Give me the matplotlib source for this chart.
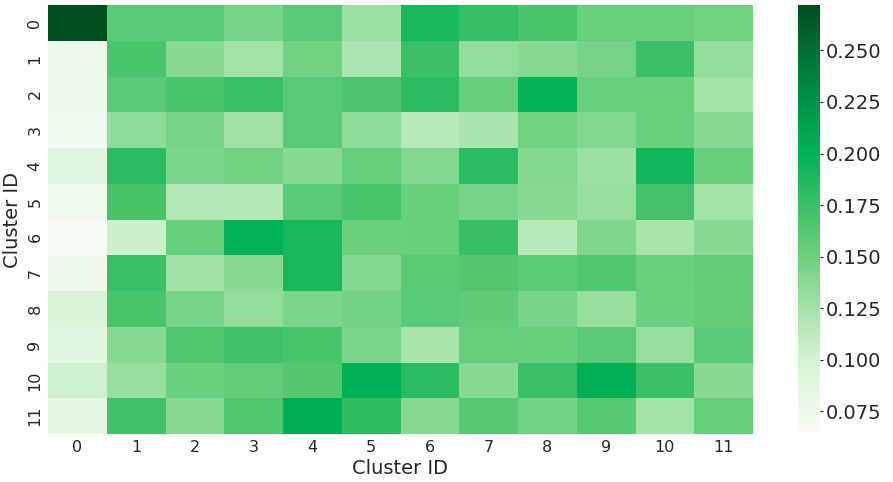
import numpy as np
import matplotlib
matplotlib.use("Agg")
import matplotlib.pyplot as plt
import seaborn as sns
from matplotlib.colors import LinearSegmentedColormap

cluster_ids = [str(i) for i in range(12)]
row_0 = [0.272, 0.160, 0.160, 0.145, 0.160, 0.128, 0.190, 0.178, 0.168, 0.152, 0.151, 0.148]
row_1 = [0.075, 0.168, 0.138, 0.125, 0.148, 0.120, 0.175, 0.133, 0.137, 0.146, 0.175, 0.133]
row_2 = [0.077, 0.160, 0.168, 0.175, 0.160, 0.166, 0.182, 0.153, 0.198, 0.152, 0.151, 0.125]
row_3 = [0.070, 0.135, 0.145, 0.126, 0.160, 0.135, 0.115, 0.122, 0.148, 0.140, 0.152, 0.137]
row_4 = [0.088, 0.182, 0.143, 0.148, 0.137, 0.154, 0.141, 0.183, 0.139, 0.128, 0.192, 0.153]
row_5 = [0.072, 0.170, 0.117, 0.116, 0.160, 0.168, 0.153, 0.145, 0.137, 0.131, 0.171, 0.125]
row_6 = [0.065, 0.104, 0.153, 0.200, 0.190, 0.151, 0.153, 0.177, 0.115, 0.142, 0.123, 0.137]
row_7 = [0.074, 0.175, 0.126, 0.138, 0.190, 0.140, 0.161, 0.163, 0.159, 0.164, 0.152, 0.155]
row_8 = [0.095, 0.169, 0.145, 0.133, 0.143, 0.147, 0.160, 0.157, 0.145, 0.130, 0.150, 0.155]
row_9 = [0.087, 0.137, 0.165, 0.172, 0.168, 0.143, 0.123, 0.154, 0.153, 0.160, 0.130, 0.160]
row_10 = [0.103, 0.130, 0.150, 0.156, 0.163, 0.201, 0.182, 0.137, 0.175, 0.202, 0.175, 0.137]
row_11 = [0.083, 0.172, 0.137, 0.165, 0.203, 0.180, 0.137, 0.162, 0.147, 0.162, 0.125, 0.154]

data = np.array([row_0, row_1, row_2, row_3, row_4, row_5, row_6, row_7,
                 row_8, row_9, row_10, row_11])

cmap = LinearSegmentedColormap.from_list("greens_custom", [
    (0.0, "#f5fcf3"), (0.048, "#eefaeb"), (0.169, "#d5f3d3"), (0.29, "#a2e3a6"),
    (0.41, "#6dd17f"), (0.531, "#3cc065"), (0.652, "#00b356"), (0.773, "#00934a"),
    (0.894, "#007034"), (1.0, "#004d1e")])

sns.set_style("white")
fig = plt.figure(figsize=(8.93, 4.82), dpi=100)
ax = fig.add_axes([48 / 893, 1 - 434 / 482, 705 / 893, 429 / 482])
cax = fig.add_axes([798 / 893, 1 - 432 / 482, 22 / 893, 427 / 482])

sns.heatmap(data, ax=ax, cbar_ax=cax, cmap=cmap, xticklabels=cluster_ids,
            yticklabels=cluster_ids)
ax.tick_params(axis="both", labelsize=11.5, colors="#262626", length=2, pad=2)
ax.tick_params(axis="x", rotation=0)
ax.tick_params(axis="y", rotation=90)
for t in ax.get_yticklabels():
    t.set_va("center")
ax.set_xlabel("Cluster ID", fontsize=14, color="#262626", labelpad=3)
ax.set_ylabel("Cluster ID", fontsize=14, color="#262626", labelpad=4)

cax.tick_params(labelsize=14, colors="#262626", length=2, pad=2)
cax.set_yticks([0.075, 0.1, 0.125, 0.15, 0.175, 0.2, 0.225, 0.25])
cax.set_yticklabels(["0.075", "0.100", "0.125", "0.150", "0.175", "0.200", "0.225", "0.250"])

fig.savefig("out.png", dpi=100)
